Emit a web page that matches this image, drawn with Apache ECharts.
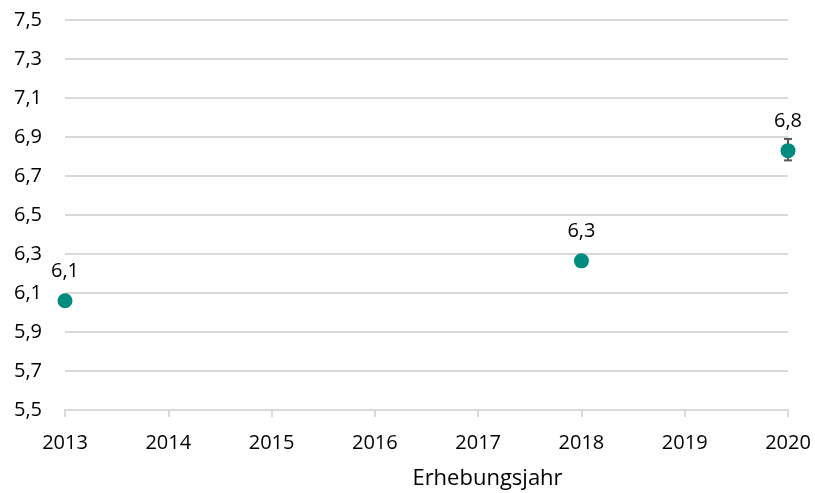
<!DOCTYPE html>
<html>
<head>
<meta charset="utf-8">
<script src="https://cdn.jsdelivr.net/npm/echarts@6/dist/echarts.min.js"></script>
<style>
  html, body { margin: 0; padding: 0; background: #fff; }
  #chart { width: 815px; height: 493px; }
</style>
</head>
<body>
<div id="chart"></div>
<script>
  // Erhebungsjahre mit Messwert
  var years = [2013, 2018, 2020];
  var values = [6.06, 6.265, 6.83];
  // Fehlerbalken (nur 2020 sichtbar)
  var errLow = [6.06, 6.265, 6.78];
  var errHigh = [6.06, 6.265, 6.89];

  var fmt = function (v) { return v.toFixed(1).replace('.', ','); };
  var font = '"Open Sans", "Noto Sans", sans-serif';

  var chart = echarts.init(document.getElementById('chart'));

  var errData = [];
  for (var i = 0; i < years.length; i++) {
    if (errHigh[i] > errLow[i]) errData.push([years[i], errLow[i], errHigh[i]]);
  }

  var option = {
    animation: false,
    grid: { left: 65, right: 27, top: 20, bottom: 83, outerBoundsMode: 'none', containLabel: false },
    xAxis: {
      type: 'value',
      min: 2013,
      max: 2020,
      interval: 1,
      name: 'Erhebungsjahr',
      nameLocation: 'middle',
      nameGap: 58,
      nameTextStyle: { color: '#000', fontSize: 22, fontFamily: font, padding: [0, 0, 0, 122] },
      axisLine: { show: true, lineStyle: { color: '#d9d9d9', width: 2 } },
      axisTick: { show: true, length: 7, lineStyle: { color: '#d9d9d9', width: 2 } },
      axisLabel: { color: '#000', fontSize: 20, fontFamily: font, margin: 23,
        formatter: function (v) { return String(v); } },
      splitLine: { show: false }
    },
    yAxis: {
      type: 'value',
      min: 5.5,
      max: 7.5,
      interval: 0.2,
      axisLine: { show: false },
      axisTick: { show: false },
      axisLabel: { color: '#000', fontSize: 20, fontFamily: font, margin: 23, formatter: fmt },
      splitLine: { lineStyle: { color: '#d9d9d9', width: 2 } }
    },
    series: [
      {
        type: 'custom',
        z: 1,
        renderItem: function (params, api) {
          var x = api.value(0);
          var lo = api.coord([x, api.value(1)]);
          var hi = api.coord([x, api.value(2)]);
          var w = 4;
          var st = { stroke: '#595959', lineWidth: 2 };
          return {
            type: 'group',
            children: [
              { type: 'line', shape: { x1: lo[0], y1: lo[1], x2: hi[0], y2: hi[1] }, style: st },
              { type: 'line', shape: { x1: lo[0] - w, y1: lo[1], x2: lo[0] + w, y2: lo[1] }, style: st },
              { type: 'line', shape: { x1: hi[0] - w, y1: hi[1], x2: hi[0] + w, y2: hi[1] }, style: st }
            ]
          };
        },
        data: errData
      },
      {
        type: 'scatter',
        z: 3,
        symbol: 'circle',
        symbolSize: 15,
        itemStyle: { color: '#008b7f', opacity: 1 },
        label: {
          show: true,
          position: 'top',
          distance: 12,
          color: '#000',
          fontSize: 20,
          fontFamily: font,
          formatter: function (p) { return fmt(p.value[1]); }
        },
        data: years.map(function (y, i) { return [y, values[i]]; })
      }
    ]
  };

  chart.setOption(option);
</script>
</body>
</html>
